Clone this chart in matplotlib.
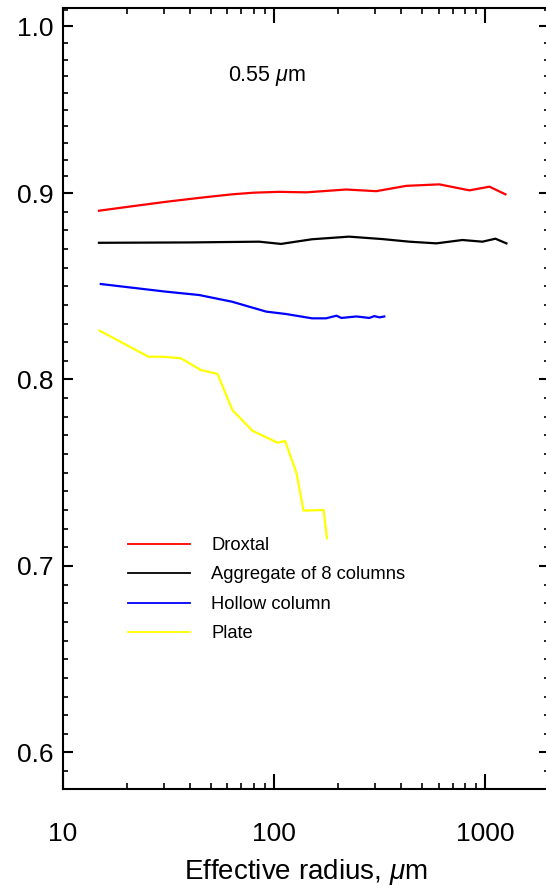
import numpy as np
import matplotlib
matplotlib.use("Agg")
import matplotlib.pyplot as plt
from matplotlib.ticker import MultipleLocator, FixedLocator, LogLocator, NullFormatter, FixedFormatter

plt.rcParams['font.family'] = ['Liberation Sans', 'DejaVu Sans']
plt.rcParams['mathtext.fontset'] = 'custom'
plt.rcParams['mathtext.rm'] = 'Liberation Sans'
plt.rcParams['mathtext.it'] = 'Liberation Sans:italic'

# Asymmetry factor at 0.55 um versus effective radius
droxtal_r = [14.8, 20.0, 30.8, 45.0, 63.2, 80.0, 105.6, 141.8, 219.0, 304.0, 422.0, 605.0, 840.0, 1045.0, 1244.0]
droxtal_g = [0.8905, 0.8925, 0.8953, 0.8975, 0.8993, 0.9002, 0.9007, 0.9004, 0.9021, 0.9011, 0.9043, 0.9052, 0.9016, 0.9038, 0.8993]

aggregate_r = [14.8, 40.0, 84.9, 107.7, 151.0, 226.0, 325.0, 436.0, 586.0, 778.0, 968.0, 1115.0, 1257.0]
aggregate_g = [0.8733, 0.8735, 0.8739, 0.8727, 0.8752, 0.8766, 0.8753, 0.8739, 0.8730, 0.8748, 0.8739, 0.8755, 0.8730]

hollow_r = [15.1, 30.7, 44.1, 63.2, 91.6, 114.0, 151.0, 176.0, 197.0, 208.0, 245.0, 282.0, 298.0, 315.0, 332.0]
hollow_g = [0.8512, 0.8471, 0.8453, 0.8417, 0.8364, 0.8351, 0.8328, 0.8328, 0.8342, 0.8330, 0.8338, 0.8330, 0.8340, 0.8333, 0.8338]

plate_r = [14.9, 25.4, 29.6, 36.1, 44.9, 53.9, 63.4, 78.9, 103.7, 112.7, 127.6, 137.7, 171.3, 177.7]
plate_g = [0.8262, 0.8122, 0.8122, 0.8114, 0.8051, 0.8030, 0.7836, 0.7725, 0.7661, 0.7670, 0.7497, 0.7297, 0.7300, 0.7149]

series_labels = ['Droxtal', 'Aggregate of 8 columns', 'Hollow column', 'Plate']
series_colors = ['#ff0000', '#000000', '#0000ff', '#ffff00']

x_ticks = [10, 100, 1000]
x_tick_labels = ['10', '100', '1000']
y_ticks = [0.6, 0.7, 0.8, 0.9, 1.0]
y_tick_labels = ['0.6', '0.7', '0.8', '0.9', '1.0']

# the upper decade of the y axis is drawn slightly compressed
K = 0.893


def fwd(y):
    y = np.asarray(y, dtype=float)
    return np.where(y <= 0.9, y, 0.9 + (y - 0.9) * K)


def inv(t):
    t = np.asarray(t, dtype=float)
    return np.where(t <= 0.9, t, 0.9 + (t - 0.9) / K)


fig = plt.figure(figsize=(5.46, 8.93), dpi=100)
ax = fig.add_axes([63 / 546, 1 - 789 / 893, 486 / 546, 781 / 893])
ax.set_xscale('log')
ax.set_yscale('function', functions=(fwd, inv))

for r, g, lab, col in zip([droxtal_r, aggregate_r, hollow_r, plate_r],
                          [droxtal_g, aggregate_g, hollow_g, plate_g],
                          series_labels, series_colors):
    ax.plot(r, g, color=col, lw=1.6, label=lab, solid_joinstyle='round')

ax.set_xlim(10, 2000)
ax.set_ylim(0.5804, 1.0111)

ax.xaxis.set_major_locator(FixedLocator(x_ticks))
ax.xaxis.set_major_formatter(FixedFormatter(x_tick_labels))
ax.xaxis.set_minor_locator(LogLocator(base=10, subs=np.arange(2, 10)))
ax.xaxis.set_minor_formatter(NullFormatter())
ax.yaxis.set_major_locator(FixedLocator(y_ticks))
ax.yaxis.set_major_formatter(FixedFormatter(y_tick_labels))
ax.yaxis.set_minor_locator(MultipleLocator(0.01))
ax.yaxis.set_minor_formatter(NullFormatter())

for s in ax.spines.values():
    s.set_linewidth(1.5)

ax.tick_params(axis='x', which='major', direction='in', top=True, bottom=True,
               length=10.8, width=1.5, pad=24, labelsize=19)
ax.tick_params(axis='x', which='minor', direction='in', top=True, bottom=True,
               length=4.3, width=1.2)
ax.tick_params(axis='y', which='major', direction='in', left=True, right=True,
               length=7.2, width=1.5, pad=7, labelsize=19)
ax.tick_params(axis='y', which='minor', direction='in', left=True, right=True,
               length=3.6, width=1.2)

ax.set_xlabel(r'Effective radius, $\mu$m', fontsize=20, labelpad=8)

fig.text(228 / 546, 1 - 76 / 893, r'0.55 $\mu$m', fontsize=15.5, ha='left', va='center')

leg = ax.legend(loc='upper left', bbox_to_anchor=(128 / 546, 1 - 537 / 893),
                bbox_transform=fig.transFigure, frameon=False, fontsize=13.2,
                handlelength=3.4, handletextpad=1.15, labelspacing=0.68,
                borderpad=0, borderaxespad=0)
for line in leg.get_lines():
    line.set_linewidth(1.3)

fig.savefig('out.png', dpi=100)
